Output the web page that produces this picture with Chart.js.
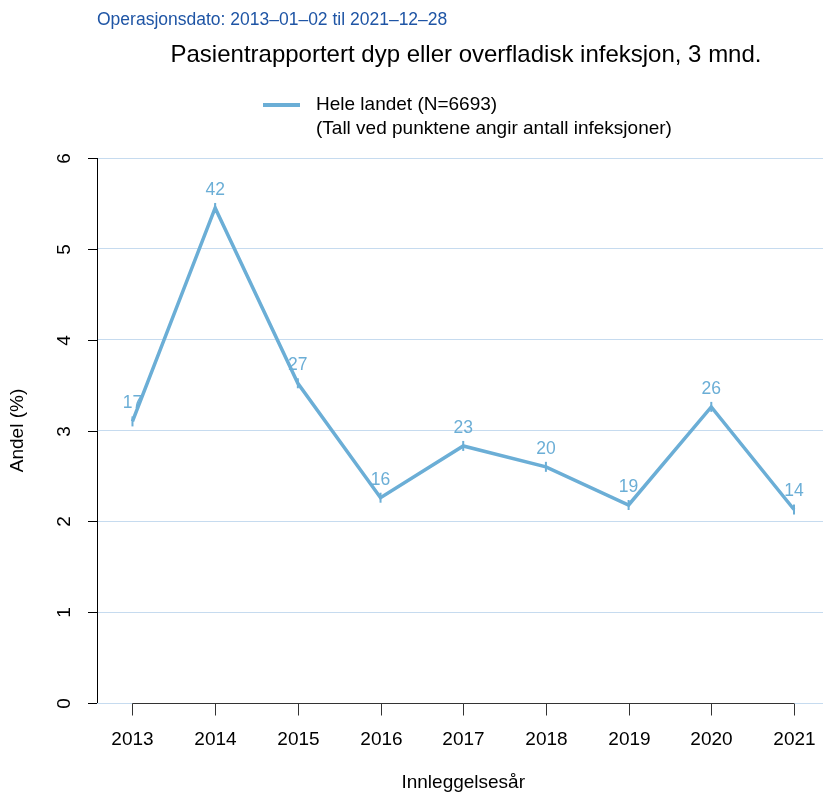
<!DOCTYPE html>
<html>
<head>
<meta charset="utf-8">
<script src="https://cdn.jsdelivr.net/npm/chart.js@4"></script>
<style>
html,body{margin:0;padding:0;background:#fff;}
canvas{display:block;}
</style>
</head>
<body>
<canvas id="c" width="823" height="793"></canvas>
<script>
const years = [2013, 2014, 2015, 2016, 2017, 2018, 2019, 2020, 2021];
const shares = [3.10, 5.45, 3.52, 2.26, 2.83, 2.60, 2.18, 3.26, 2.13];
const counts = [17, 42, 27, 16, 23, 20, 19, 26, 14];
const yTicks = [0, 1, 2, 3, 4, 5, 6];
const subtitleText = "Operasjonsdato: 2013\u201301\u201302 til 2021\u201312\u201328";
const titleText = "Pasientrapportert dyp eller overfladisk infeksjon, 3 mnd.";
const legendLines = ["Hele landet (N=6693)", "(Tall ved punktene angir antall infeksjoner)"];
const xTitle = "Innleggelsesår";
const yTitle = "Andel (%)";

const LINE = '#6baed6';
const GRID = '#c6dbef';
const FONT = '"Liberation Sans", Arial, Helvetica, sans-serif';

const overlay = {
  id: 'overlay',
  afterDraw(chart) {
    const ctx = chart.ctx;
    const xs = chart.scales.x, ys = chart.scales.y;
    ctx.save();
    // Y axis
    const x0 = chart.chartArea.left;
    ctx.strokeStyle = '#000';
    ctx.lineWidth = 1;
    ctx.beginPath();
    ctx.moveTo(x0 + 0.5, ys.getPixelForValue(yTicks[0]));
    ctx.lineTo(x0 + 0.5, ys.getPixelForValue(yTicks[yTicks.length - 1]));
    ctx.stroke();
    ctx.fillStyle = '#000';
    ctx.font = '19px ' + FONT;
    ctx.textAlign = 'center';
    ctx.textBaseline = 'middle';
    yTicks.forEach(v => {
      const py = Math.round(ys.getPixelForValue(v)) + 0.5;
      ctx.beginPath();
      ctx.moveTo(x0 - 9, py);
      ctx.lineTo(x0, py);
      ctx.stroke();
      ctx.save();
      ctx.translate(65, py);
      ctx.rotate(-Math.PI / 2);
      ctx.fillText(String(v), 0, 0);
      ctx.restore();
    });
    // X axis
    const yb = Math.round(ys.getPixelForValue(0)) + 0.5;
    ctx.strokeStyle = '#333';
    ctx.beginPath();
    ctx.moveTo(xs.getPixelForValue(years[0]), yb);
    ctx.lineTo(xs.getPixelForValue(years[years.length - 1]), yb);
    ctx.stroke();
    years.forEach(yr => {
      const px = Math.round(xs.getPixelForValue(yr)) + 0.5;
      ctx.beginPath();
      ctx.moveTo(px, yb);
      ctx.lineTo(px, yb + 12);
      ctx.stroke();
      ctx.fillText(String(yr), px, 740);
    });
    // Axis titles
    ctx.fillText(xTitle, (xs.getPixelForValue(years[0]) + xs.getPixelForValue(years[years.length-1])) / 2, 783);
    ctx.save();
    ctx.translate(18, (ys.getPixelForValue(0) + ys.getPixelForValue(6)) / 2);
    ctx.rotate(-Math.PI / 2);
    ctx.fillText(yTitle, 0, 0);
    ctx.restore();
    // Data labels
    ctx.fillStyle = LINE;
    ctx.font = '17.5px ' + FONT;
    years.forEach((yr, i) => {
      ctx.fillText(String(counts[i]), xs.getPixelForValue(yr), ys.getPixelForValue(shares[i]) - 18);
    });
    // Subtitle
    ctx.textAlign = 'left';
    ctx.fillStyle = '#1f55a5';
    ctx.font = '17.5px ' + FONT;
    ctx.fillText(subtitleText, 97, 20);
    // Title
    ctx.textAlign = 'center';
    ctx.fillStyle = '#000';
    ctx.font = '24px ' + FONT;
    ctx.fillText(titleText, 466, 55);
    // Legend
    ctx.strokeStyle = LINE;
    ctx.lineWidth = 4;
    ctx.beginPath();
    ctx.moveTo(263, 105);
    ctx.lineTo(300, 105);
    ctx.stroke();
    ctx.textAlign = 'left';
    ctx.fillStyle = '#000';
    ctx.font = '19px ' + FONT;
    ctx.fillText(legendLines[0], 316, 105);
    ctx.fillText(legendLines[1], 316, 129);
    ctx.restore();
  }
};

new Chart(document.getElementById('c'), {
  type: 'line',
  data: {
    datasets: [{
      data: years.map((y, i) => ({ x: y, y: shares[i] })),
      borderColor: LINE,
      backgroundColor: LINE,
      borderWidth: 3.5,
      tension: 0,
      pointStyle: 'line',
      pointRotation: 90,
      pointRadius: 5,
      pointBorderWidth: 2,
      pointBorderColor: LINE,
      clip: false
    }]
  },
  options: {
    responsive: false,
    animation: false,
    devicePixelRatio: 1,
    layout: { autoPadding: false, padding: { left: 97, top: 158, right: 0, bottom: 90 } },
    plugins: { legend: { display: false }, tooltip: { enabled: false }, title: { display: false } },
    scales: {
      x: {
        type: 'linear', min: 2012.571, max: 2021.351,
        grid: { display: false, drawTicks: false },
        border: { display: false },
        ticks: { display: false }
      },
      y: {
        type: 'linear', min: 0, max: 6,
        ticks: { display: false, stepSize: 1 },
        grid: { color: GRID, lineWidth: 1, drawTicks: false },
        border: { display: false }
      }
    }
  },
  plugins: [overlay]
});
</script>
</body>
</html>
